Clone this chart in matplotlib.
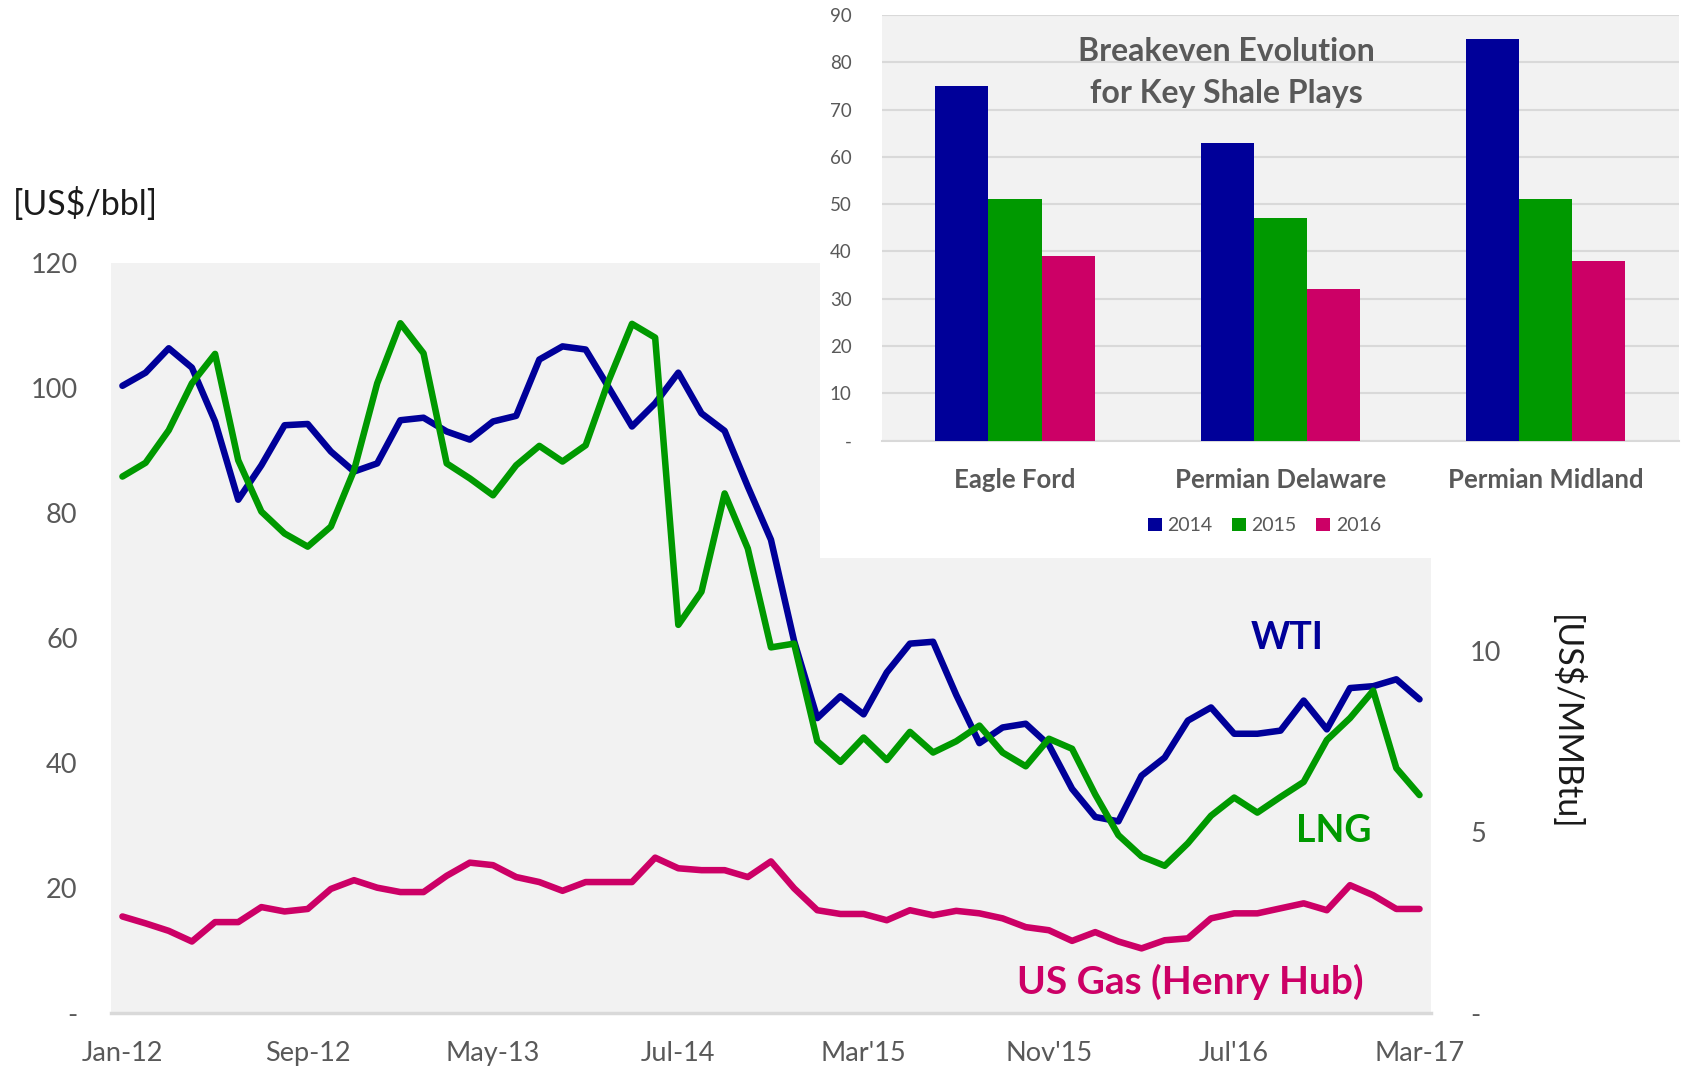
import matplotlib
matplotlib.use("Agg")
import matplotlib.pyplot as plt
from matplotlib.patches import Rectangle

plt.rcParams['font.family'] = ['Lato', 'DejaVu Sans']

# ---------------- data ----------------
x_tick_labels = ["Jan-12", "Sep-12", "May-13", "Jul-14", "Mar'15", "Nov'15", "Jul'16", "Mar-17"]

wti = [100.3, 102.4, 106.3, 103.2, 94.6, 82.1, 87.6, 94.0, 94.2, 89.8,
       86.6, 87.9, 94.8, 95.2, 93.0, 91.7, 94.6, 95.5, 104.5, 106.6,
       106.1, 100.0, 93.8, 97.5, 102.4, 95.9, 93.1, 84.2, 75.7, 59.5,
       47.2, 50.7, 47.8, 54.5, 59.1, 59.4, 50.9, 43.2, 45.7, 46.3,
       42.9, 35.9, 31.4, 30.7, 38.0, 40.9, 46.8, 48.9, 44.7, 44.7,
       45.2, 50.0, 45.4, 52.0, 52.3, 53.4, 50.2]

lng = [85.8, 88.0, 93.2, 100.7, 105.4, 88.4, 80.2, 76.7, 74.6, 77.8,
       86.8, 100.7, 110.3, 105.5, 87.9, 85.5, 82.8, 87.6, 90.7, 88.2,
       90.8, 101.2, 110.2, 108.0, 62.1, 67.4, 83.1, 74.3, 58.5, 59.1,
       43.5, 40.2, 44.1, 40.5, 45.0, 41.7, 43.5, 46.0, 41.7, 39.5,
       43.9, 42.3, 35.0, 28.5, 25.1, 23.6, 27.2, 31.6, 34.5, 32.1,
       34.6, 37.0, 43.7, 47.2, 51.6, 39.2, 34.9]

henry_hub = [15.5, 14.4, 13.2, 11.5, 14.6, 14.6, 17.0, 16.3, 16.7, 19.9,
             21.3, 20.1, 19.4, 19.4, 22.0, 24.1, 23.7, 21.8, 21.0, 19.6,
             21.0, 21.0, 21.0, 24.9, 23.2, 22.9, 22.9, 21.8, 24.3, 20.0,
             16.5, 15.9, 15.9, 14.9, 16.5, 15.7, 16.4, 16.0, 15.2, 13.8,
             13.3, 11.6, 13.0, 11.5, 10.4, 11.7, 12.0, 15.2, 16.0, 16.0,
             16.8, 17.6, 16.5, 20.5, 18.9, 16.7, 16.7]

left_ticks = [0, 20, 40, 60, 80, 100, 120]
right_ticks = [0, 5, 10]

plays = ["Eagle Ford", "Permian Delaware", "Permian Midland"]
years = ["2014", "2015", "2016"]
be_2014 = [75, 63, 85]
be_2015 = [51, 47, 51]
be_2016 = [39, 32, 38]
inset_ticks = [0, 10, 20, 30, 40, 50, 60, 70, 80, 90]

# ---------------- style ----------------
NAVY = '#000099'
GREEN = '#009900'
MAGENTA = '#CC0066'
GREY_TXT = '#595959'
BG = '#F2F2F2'
GRID = '#D9D9D9'

fig = plt.figure(figsize=(16.87, 10.72), dpi=100)

# ---------------- main chart ----------------
ax = fig.add_axes([0.0657, 0.0546, 0.7826, 0.7005])
ax.set_facecolor(BG)
n = len(wti)
xs = list(range(n))
line_kw = dict(lw=4.7, solid_joinstyle='round', solid_capstyle='round')
ax.plot(xs, wti, color=NAVY, **line_kw)
ax.plot(xs, lng, color=GREEN, **line_kw)
ax.plot(xs, henry_hub, color=MAGENTA, **line_kw)

ax.set_xlim(-0.5, n - 0.5)
ax.set_ylim(0, 120)
ax.set_xticks(list(range(0, n, 8)))
ax.set_xticklabels(x_tick_labels)
ax.set_yticks(left_ticks)
ax.set_yticklabels(['-' if v == 0 else str(v) for v in left_ticks])
ax.tick_params(axis='x', length=0, pad=20, labelsize=19.5, labelcolor=GREY_TXT)
ax.tick_params(axis='y', length=0, pad=24, labelsize=19.5, labelcolor=GREY_TXT)
for s in ['top', 'left', 'right']:
    ax.spines[s].set_visible(False)
ax.spines['bottom'].set_color(GRID)
ax.spines['bottom'].set_linewidth(2.5)

ax2 = ax.twinx()
ax2.set_ylim(0, 120 / 5.8)
ax2.set_yticks(right_ticks)
ax2.set_yticklabels(['-' if v == 0 else str(v) for v in right_ticks])
ax2.tick_params(axis='y', length=0, pad=28, labelsize=19.5, labelcolor=GREY_TXT)
for s in ['top', 'left', 'right', 'bottom']:
    ax2.spines[s].set_visible(False)

ax.text(50.3, 60.0, "WTI", color=NAVY, fontsize=27, fontweight='bold', ha='center', va='center')
ax.text(52.3, 29.1, "LNG", color=GREEN, fontsize=27, fontweight='bold', ha='center', va='center')
ax.text(46.1, 5.0, "US Gas (Henry Hub)", color=MAGENTA, fontsize=28, fontweight='bold',
        ha='center', va='center')

fig.text(0.0077, 0.81, "[US$/bbl]", fontsize=24.5, color='#1a1a1a', ha='left', va='center')
fig.text(0.928, 0.3256, "[US$/MMBtu]", fontsize=24.5, color='#1a1a1a', ha='center', va='center',
         rotation=270)

# ---------------- white box behind inset ----------------
box = Rectangle((0.486, 0.4795), 0.514, 0.5205, transform=fig.transFigure,
                facecolor='white', edgecolor='none', zorder=1)
fig.add_artist(box)

# ---------------- inset bar chart ----------------
ins = fig.add_axes([0.523, 0.589, 0.472, 0.397])
ins.set_zorder(2)
ins.set_facecolor(BG)
w = 0.2
pos = list(range(len(plays)))
ins.bar([p - w for p in pos], be_2014, width=w, color=NAVY, label=years[0], zorder=3)
ins.bar(pos, be_2015, width=w, color=GREEN, label=years[1], zorder=3)
ins.bar([p + w for p in pos], be_2016, width=w, color=MAGENTA, label=years[2], zorder=3)
ins.set_xlim(-0.5, 2.5)
ins.set_ylim(0, 90)
ins.set_yticks(inset_ticks)
ins.set_yticklabels(['-' if v == 0 else str(v) for v in inset_ticks])
ins.set_xticks(pos)
ins.set_xticklabels(plays, fontweight='bold')
ins.tick_params(axis='y', length=0, pad=22, labelsize=13.5, labelcolor=GREY_TXT)
ins.tick_params(axis='x', length=0, pad=20, labelsize=18.5, labelcolor=GREY_TXT)
ins.yaxis.grid(True, color=GRID, lw=1.5, zorder=0)
ins.set_axisbelow(True)
for s in ['top', 'left', 'right']:
    ins.spines[s].set_visible(False)
ins.spines['bottom'].set_color(GRID)
ins.spines['bottom'].set_linewidth(1.5)

ins.text(0.432, 0.865, "Breakeven Evolution\nfor Key Shale Plays", transform=ins.transAxes,
         ha='center', va='center', fontsize=23, fontweight='bold', color=GREY_TXT, linespacing=1.55)

leg = ins.legend(loc='center', bbox_to_anchor=(0.48, -0.2), ncol=3, frameon=False,
                 handlelength=0.7, handleheight=0.7, handletextpad=0.3, columnspacing=1.0,
                 fontsize=14)
for t in leg.get_texts():
    t.set_color(GREY_TXT)

fig.savefig("out.png", dpi=100)
